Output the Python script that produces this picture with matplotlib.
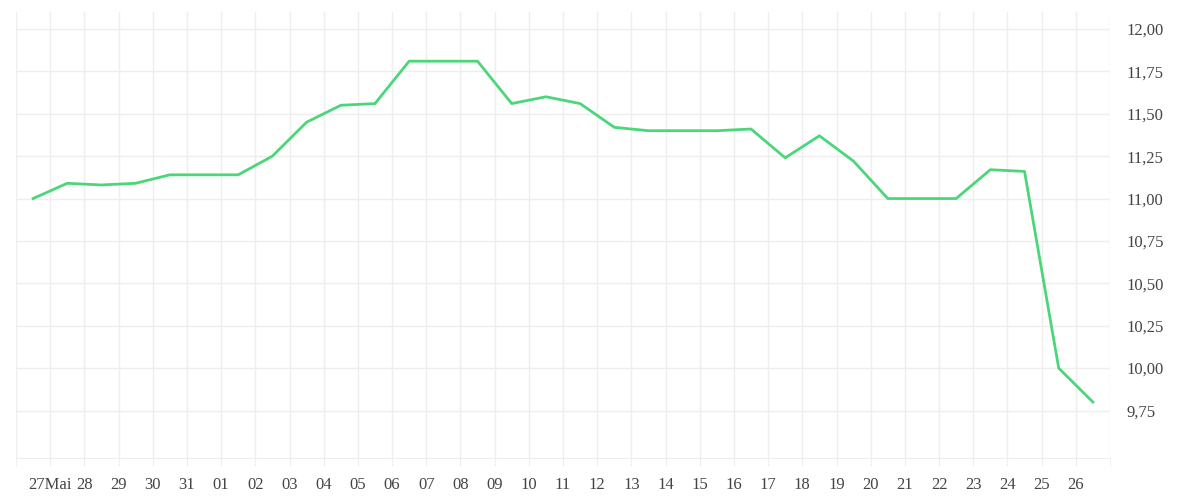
import numpy as np
import matplotlib.pyplot as plt

days = np.arange(32) + 0.5   # days since 26 May, noon
values = [11.00, 11.09, 11.08, 11.09, 11.14, 11.14, 11.14, 11.25, 11.45, 11.55,
          11.56, 11.81, 11.81, 11.81, 11.56, 11.60, 11.56, 11.42, 11.40, 11.40,
          11.40, 11.41, 11.24, 11.37, 11.22, 11.00, 11.00, 11.00, 11.17, 11.16,
          10.00, 9.80]
tick_labels = ["27Mai", "28", "29", "30", "31"] + ["%02d" % d for d in range(1, 27)]
y_ticks = [9.75, 10.00, 10.25, 10.50, 10.75, 11.00, 11.25, 11.50, 11.75, 12.00]

plt.rcParams["font.family"] = "Liberation Serif"
fig = plt.figure(figsize=(12, 5), dpi=100)
ax = fig.add_axes([16/1200, 42/500, 1094/1200, 446/500])
ax.plot(days, values, color="#4cd67a", lw=2)

ax.set_xlim(0, 32)
ax.set_ylim(9.47, 12.1)
ax.set_xticks(np.arange(1, 32))
ax.set_xticklabels(tick_labels)
ax.set_xticks([0, 32], minor=True)
ax.set_yticks(y_ticks)
ax.set_yticklabels([("%.2f" % v).replace(".", ",") for v in y_ticks])
ax.yaxis.tick_right()
ax.grid(True, color="#eeeeee", lw=1)
ax.grid(True, which="minor", axis="x", color="#eeeeee", lw=1)
for name, s in ax.spines.items():
    s.set_visible(name == "bottom")
ax.spines["bottom"].set_color("#eeeeee")
ax.tick_params(axis="both", which="both", length=0, labelsize=12, colors="#444444")
ax.tick_params(axis="x", which="both", length=6, color="#eeeeee", pad=8)
ax.tick_params(axis="y", pad=12)

fig.savefig("out.png")
